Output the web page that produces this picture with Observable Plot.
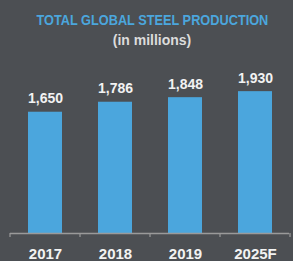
<!DOCTYPE html>
<html>
<head>
<meta charset="utf-8">
<script src="https://cdn.jsdelivr.net/npm/d3@7"></script>
<script src="https://cdn.jsdelivr.net/npm/@observablehq/plot@0.6"></script>
<style>
  html, body { margin: 0; padding: 0; background: #4c4f53; }
  body { width: 293px; height: 261px; overflow: hidden; font-family: "Liberation Sans", Arial, sans-serif; }
  #header { height: 56px; box-sizing: border-box; padding-top: 12px; padding-left: 11px; text-align: center; }
  #title { font-size: 15px; line-height: 15px; font-weight: bold; color: #4ba6dd; white-space: nowrap; }
  #title span { display: inline-block; transform: scaleX(0.85); transform-origin: center; }
  #subtitle { margin-top: 6px; font-size: 14px; line-height: 14px; font-weight: bold; color: #dcdcdc; }
  #chart svg { display: block; }
</style>
</head>
<body>
<div id="header">
  <div id="title"><span>TOTAL GLOBAL STEEL PRODUCTION</span></div>
  <div id="subtitle">(in millions)</div>
</div>
<div id="chart"></div>
<script>
const years = ["2017", "2018", "2019", "2025F"];
const production = [1650, 1786, 1848, 1930];
const valueLabels = ["1,650", "1,786", "1,848", "1,930"];

const data = years.map((year, i) => ({year, value: production[i], label: valueLabels[i]}));

const barColor = "#4ba6dd";
const textColor = "#f2f2f2";
const axisColor = "#9a9a9a";

// Axis baseline with tick marks at category boundaries, drawn from the x scale
function boundaryAxis(index, scales, values, dimensions) {
  const x = scales.x;
  const bw = x.bandwidth ? x.bandwidth() : 0;
  const step = x.step ? x.step() : (x(years[1]) - x(years[0]));
  const y0 = dimensions.height - dimensions.marginBottom;
  const bounds = years.map(d => x(d) + bw / 2 - step / 2);
  bounds.push(x(years[years.length - 1]) + bw / 2 + step / 2);
  const g = d3.create("svg:g").attr("stroke", axisColor).attr("fill", "none");
  g.append("line")
    .attr("x1", bounds[0]).attr("x2", bounds[bounds.length - 1] - 1)
    .attr("y1", y0 + 0.5).attr("y2", y0 + 0.5)
    .attr("stroke-width", 1.5);
  for (const b of bounds) {
    g.append("line")
      .attr("x1", b).attr("x2", b)
      .attr("y1", y0).attr("y2", y0 + 4)
      .attr("stroke-width", 1.2);
  }
  return g.node();
}

const chart = Plot.plot({
  width: 293,
  height: 205,
  marginLeft: 10,
  marginRight: 2,
  marginTop: 30,
  marginBottom: 28,
  style: {background: "transparent", fontFamily: "Liberation Sans, Arial, sans-serif"},
  x: {domain: years, paddingInner: 0.51, paddingOuter: 0.25, label: null},
  y: {domain: [0, 2000], axis: null},
  marks: [
    Plot.barY(data, {x: "year", y: "value", fill: barColor}),
    boundaryAxis,
    Plot.text(data, {
      x: "year", y: "value", text: "label",
      lineAnchor: "bottom", dy: -9,
      fill: textColor, fontSize: 14, fontWeight: "bold"
    }),
    Plot.axisX({
      tickSize: 0, tickPadding: 15, fontSize: 15, fontWeight: "bold",
      color: textColor, label: null
    })
  ]
});

document.getElementById("chart").appendChild(chart);
</script>
</body>
</html>
